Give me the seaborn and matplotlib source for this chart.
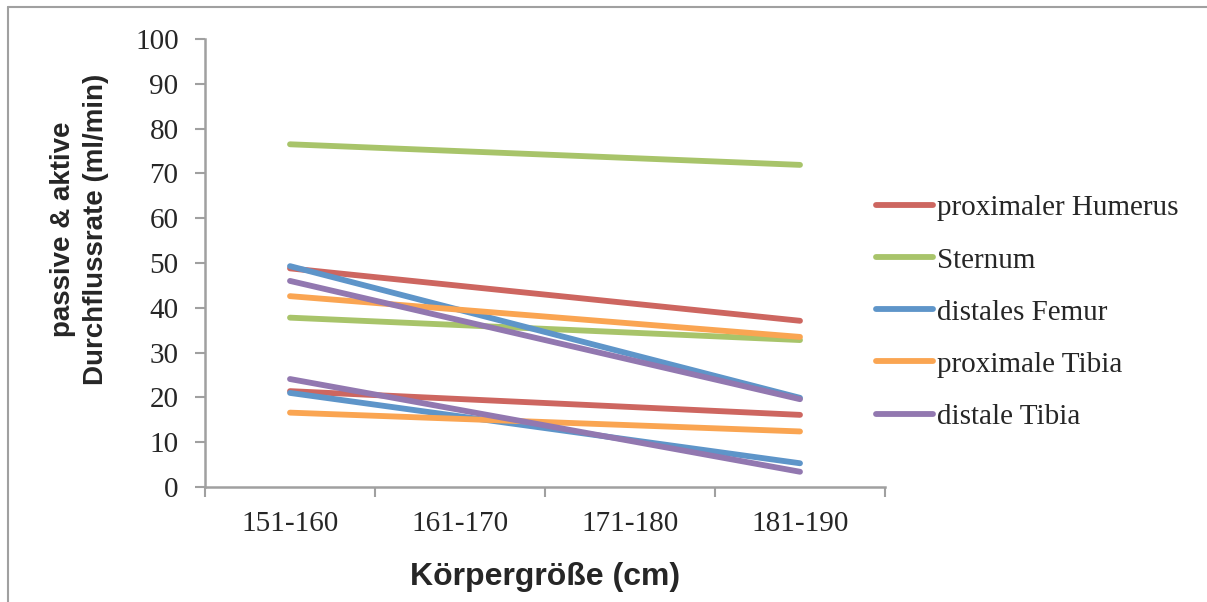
import pandas as pd
import matplotlib.pyplot as plt
from matplotlib.lines import Line2D
import seaborn as sns

# Kategorien und Werte
categories = ['151-160', '161-170', '171-180', '181-190']
series = ['proximaler Humerus', 'Sternum', 'distales Femur', 'proximale Tibia', 'distale Tibia']
colors = ['#CD6660', '#A8C46A', '#5E95C9', '#FAA552', '#9278B0']

# obere Linie und untere Linie je Messort, Wert bei 151-160 und bei 181-190
upper_first = [48.8, 76.5, 49.3, 42.6, 46.0]
upper_last = [37.1, 71.9, 19.9, 33.5, 19.6]
lower_first = [21.4, 37.8, 21.0, 16.6, 24.1]
lower_last = [16.1, 32.8, 5.3, 12.4, 3.4]

rows = []
for i, s in enumerate(series):
    rows.append([s, 'oben', categories[0], upper_first[i]])
    rows.append([s, 'oben', categories[-1], upper_last[i]])
    rows.append([s, 'unten', categories[0], lower_first[i]])
    rows.append([s, 'unten', categories[-1], lower_last[i]])
df = pd.DataFrame(rows, columns=['series', 'measure', 'category', 'value'])
df['pos'] = df['category'].map({c: i for i, c in enumerate(categories)})

sns.set_style('white')
plt.rcParams['font.family'] = ['Liberation Serif', 'DejaVu Serif']

fig = plt.figure(figsize=(12.07, 6.02), dpi=100)
ax = fig.add_axes([205 / 1207, 1 - 487 / 602, 680 / 1207, 448 / 602])

sns.lineplot(data=df, x='pos', y='value', hue='series', units='measure', estimator=None,
             hue_order=series, palette=colors, linewidth=4.2, legend=False, ax=ax,
             solid_capstyle='round')

ax.set_xlim(-0.5, 3.5)
ax.set_ylim(0, 100)
ax.set_yticks(range(0, 101, 10))
ax.set_xticks(range(4))
ax.set_xticklabels(categories)
ax.set_xticks([-0.5, 0.5, 1.5, 2.5, 3.5], minor=True)
ax.tick_params(axis='x', which='major', bottom=True, length=0, pad=17, labelsize=21)
ax.tick_params(axis='x', which='minor', bottom=True, length=7, width=1.5, color='#A0A0A0', direction='out')
ax.tick_params(axis='y', left=True, length=7, width=1.5, color='#A0A0A0', direction='out', pad=12, labelsize=21)
ax.set_xlabel('')
ax.set_ylabel('')
for side in ['top', 'right']:
    ax.spines[side].set_visible(False)
for side in ['left', 'bottom']:
    ax.spines[side].set_color('#A0A0A0')
    ax.spines[side].set_linewidth(1.8)

fig.text(545 / 1207, 1 - 577 / 602, 'Körpergröße (cm)', ha='center', va='center',
         family='Liberation Sans', fontweight='bold', fontsize=23)
fig.text(80 / 1207, 1 - 229 / 602, 'passive & aktive\nDurchflussrate (ml/min)', ha='center', va='center',
         rotation=90, family='Liberation Sans', fontweight='bold', fontsize=20, linespacing=1.35)

handles = [Line2D([], [], color=c, linewidth=4.2, solid_capstyle='round') for c in colors]
fig.legend(handles, series, loc='upper left', bbox_to_anchor=(876 / 1207, 1 - 195 / 602),
           frameon=False, fontsize=21, handlelength=1.95, handletextpad=0.15, labelspacing=0.88,
           borderpad=0, borderaxespad=0)

# Rahmen
fig.add_artist(Line2D([8 / 1207, 8 / 1207], [0, 1 - 7 / 602], color='#A0A0A0', linewidth=1.5))
fig.add_artist(Line2D([8 / 1207, 1], [1 - 7 / 602, 1 - 7 / 602], color='#A0A0A0', linewidth=1.5))

fig.savefig('out.png', dpi=100)
